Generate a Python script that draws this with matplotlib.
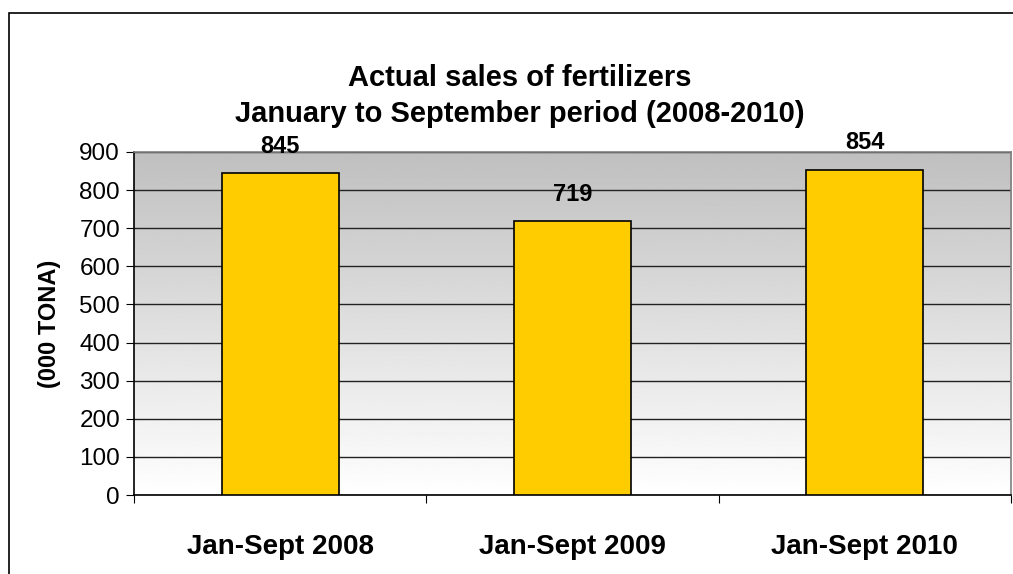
import numpy as np
import matplotlib.pyplot as plt
from matplotlib.patches import Rectangle

categories = ['Jan-Sept 2008', 'Jan-Sept 2009', 'Jan-Sept 2010']
sales = [845, 719, 854]
yticks = [0, 100, 200, 300, 400, 500, 600, 700, 800, 900]

plt.rcParams['font.family'] = ['Liberation Sans', 'DejaVu Sans']

W, H = 1013, 574
fig = plt.figure(figsize=(W / 100, H / 100), dpi=100)
fig.patch.set_facecolor('white')

# outer chart frame (left/top edges visible)
fig.patches.append(Rectangle((9 / W, -0.1), 1.2, 1 - 13 / H + 0.1, transform=fig.transFigure,
                             fill=False, edgecolor='black', linewidth=1.2, zorder=0))

ax = fig.add_axes([134 / W, (H - 495) / H, (1011 - 134) / W, (495 - 152) / H])

# gray-to-white background gradient
grad = np.linspace(0.75, 1.0, 256).reshape(-1, 1)
ax.imshow(grad, cmap='gray', vmin=0, vmax=1, aspect='auto',
          extent=[0, 1, 0, 1], transform=ax.transAxes, zorder=0, origin='upper')

x = np.arange(len(categories))
ax.bar(x, sales, width=0.4, color='#FFCC00', edgecolor='black', linewidth=1.2, zorder=3)
for xi, v in zip(x, sales):
    ax.text(xi, v + 40, str(v), ha='center', va='bottom', fontsize=17, fontweight='bold',
            zorder=4, clip_on=False)

ax.set_xlim(-0.5, len(categories) - 0.5)
ax.set_ylim(0, 900)
ax.set_yticks(yticks)
ax.yaxis.grid(True, color='#222222', linewidth=1.0, zorder=1)
ax.set_axisbelow(True)
ax.tick_params(axis='y', labelsize=17.5, length=6, direction='out', pad=4)

# category ticks sit on boundaries, labels at centers
ax.set_xticks(np.arange(len(categories) + 1) - 0.5)
ax.set_xticklabels([])
ax.set_xticks(x, minor=True)
ax.set_xticklabels(categories, minor=True, fontsize=20, fontweight='bold')
ax.tick_params(axis='x', which='major', length=6, direction='out')
ax.tick_params(axis='x', which='minor', length=0, pad=28)

for side in ['top', 'right']:
    ax.spines[side].set_color('#808080')
    ax.spines[side].set_linewidth(1.2)
for side in ['left', 'bottom']:
    ax.spines[side].set_color('black')
    ax.spines[side].set_linewidth(1.2)

ax.set_ylabel('(000 TONA)', fontsize=17, fontweight='bold', labelpad=13)

fig.text(520 / W, 1 - 96 / H, 'Actual sales of fertilizers\nJanuary to September period (2008-2010)',
         ha='center', va='center', fontsize=21, fontweight='bold', linespacing=1.32)

fig.savefig('out.png', dpi=100)
